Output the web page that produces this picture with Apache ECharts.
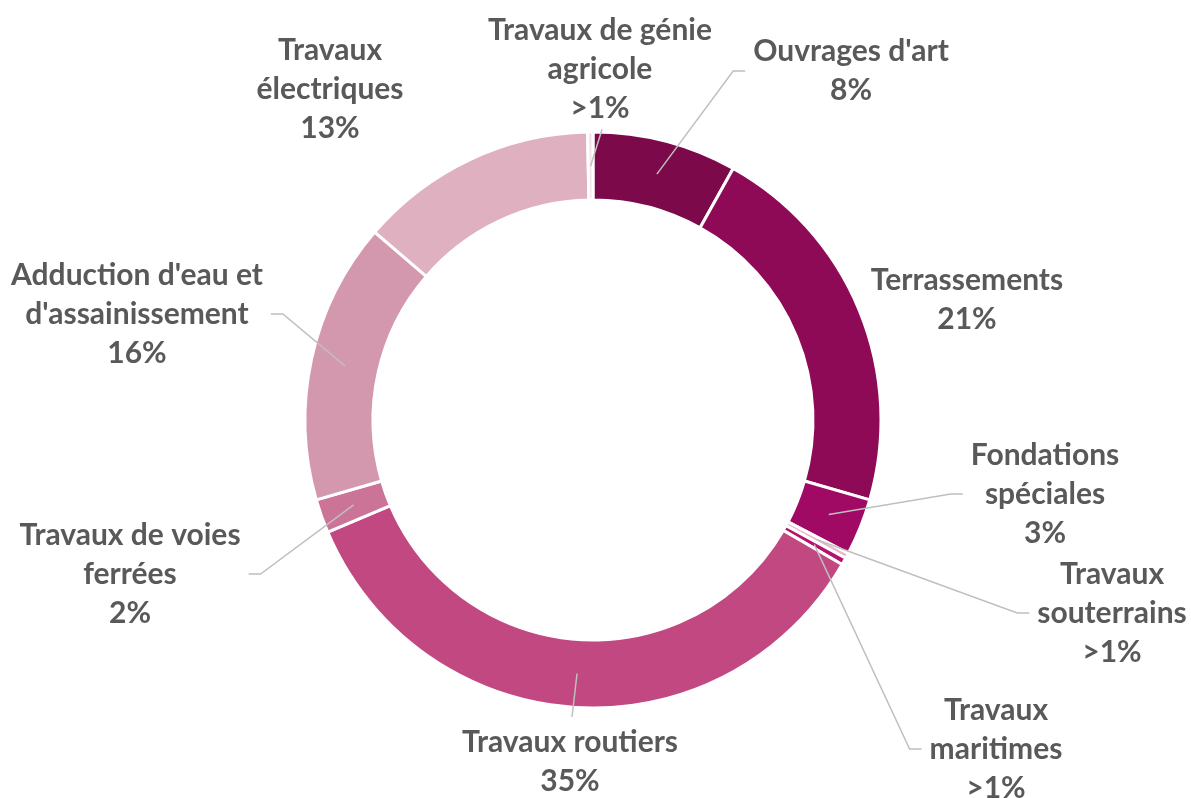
<!DOCTYPE html>
<html>
<head>
<meta charset="utf-8">
<script src="https://cdn.jsdelivr.net/npm/echarts@6/dist/echarts.min.js"></script>
<style>
  html, body { margin: 0; padding: 0; background: #fff; }
  #chart { width: 1191px; height: 798px; }
</style>
</head>
<body>
<div id="chart"></div>
<script>
// données (sens horaire depuis midi)
const categories = [
  'Ouvrages d\'art', 'Terrassements', 'Fondations\nspéciales', 'Travaux\nsouterrains',
  'Travaux\nmaritimes', 'Travaux routiers', 'Travaux de voies\nferrées',
  'Adduction d\'eau et\nd\'assainissement', 'Travaux\nélectriques', 'Travaux de génie\nagricole'
];
const values = [8.1, 21.4, 3.2, 0.3, 0.4, 35.3, 1.9, 15.8, 13.4, 0.3];
const pctLabels = ['8%', '21%', '3%', '>1%', '>1%', '35%', '2%', '16%', '13%', '>1%'];
const colors = ['#7C0A4B', '#8E0A56', '#A00A64', '#EBB3CC', '#B4126E', '#C14880', '#CC7498', '#D498AE', '#DEB0C0', '#F4E2E9'];

// placement des étiquettes (centre du bloc) et côté d'accroche du trait
const labelPos = [
  [851, 71], [967, 300], [1045, 494], [1112, 613], [996, 749],
  [570, 762], [130, 574], [137, 314], [330, 89], [600, 69]
];
const lineSide = ['left', null, 'left', 'left', 'left', 'top', 'right', 'right', null, 'bottom'];

const CX = 593, CY = 420, R_IN = 220, R_OUT = 288;
const R_MID = (R_IN + R_OUT) / 2;
const total = values.reduce((a, b) => a + b, 0);

function midAngle(i) {
  let cum = 0;
  for (let k = 0; k < i; k++) cum += values[k];
  return (cum + values[i] / 2) / total * Math.PI * 2;
}

const chart = echarts.init(document.getElementById('chart'));

// anneau coloré
const ringSeries = {
  type: 'pie',
  z: 2,
  center: [CX, CY],
  radius: [R_IN, R_OUT],
  startAngle: 90,
  clockwise: true,
  label: { show: false },
  labelLine: { show: false },
  itemStyle: { borderColor: '#fff', borderWidth: 3 },
  data: categories.map((name, i) => ({
    name: name,
    value: values[i],
    itemStyle: { color: colors[i] }
  }))
};

// même anneau, transparent, au-dessus : porte étiquettes et traits de rappel
const labelSeries = {
  type: 'pie',
  z: 5,
  silent: true,
  center: [CX, CY],
  radius: [R_IN, R_OUT],
  startAngle: 90,
  clockwise: true,
  avoidLabelOverlap: false,
  itemStyle: { color: 'rgba(0,0,0,0)', borderWidth: 0 },
  label: {
    show: true,
    position: 'outside',
    color: '#595959',
    fontFamily: 'Lato',
    fontWeight: 'bold',
    fontSize: 30,
    lineHeight: 39,
    align: 'center',
    formatter: (p) => p.name + '\n' + pctLabels[p.dataIndex]
  },
  labelLine: {
    show: true,
    lineStyle: { color: '#BFBFBF', width: 1.5 }
  },
  labelLayout: function (p) {
    const i = p.dataIndex;
    const pos = labelPos[i];
    const w = p.labelRect.width, h = p.labelRect.height;
    const out = { x: pos[0], y: pos[1], align: 'center', verticalAlign: 'middle' };
    const side = lineSide[i];
    if (side) {
      const a = midAngle(i);
      const start = [CX + R_MID * Math.sin(a), CY - R_MID * Math.cos(a)];
      let knee, end;
      if (side === 'left') {
        end = [pos[0] - w / 2 - 8, pos[1]];
        knee = [end[0] - 12, end[1]];
      } else if (side === 'right') {
        end = [pos[0] + w / 2 + 8, pos[1]];
        knee = [end[0] + 12, end[1]];
      } else if (side === 'top') {
        end = [pos[0] + 2, pos[1] - h / 2 - 6];
        knee = end;
      } else {
        end = [pos[0] + 2, pos[1] + h / 2 + 2];
        knee = end;
      }
      out.labelLinePoints = [start, knee, end];
    }
    return out;
  },
  data: categories.map((name, i) => ({
    name: name,
    value: values[i],
    labelLine: { show: lineSide[i] !== null }
  }))
};

chart.setOption({ animation: false, series: [ringSeries, labelSeries] });
</script>
</body>
</html>
